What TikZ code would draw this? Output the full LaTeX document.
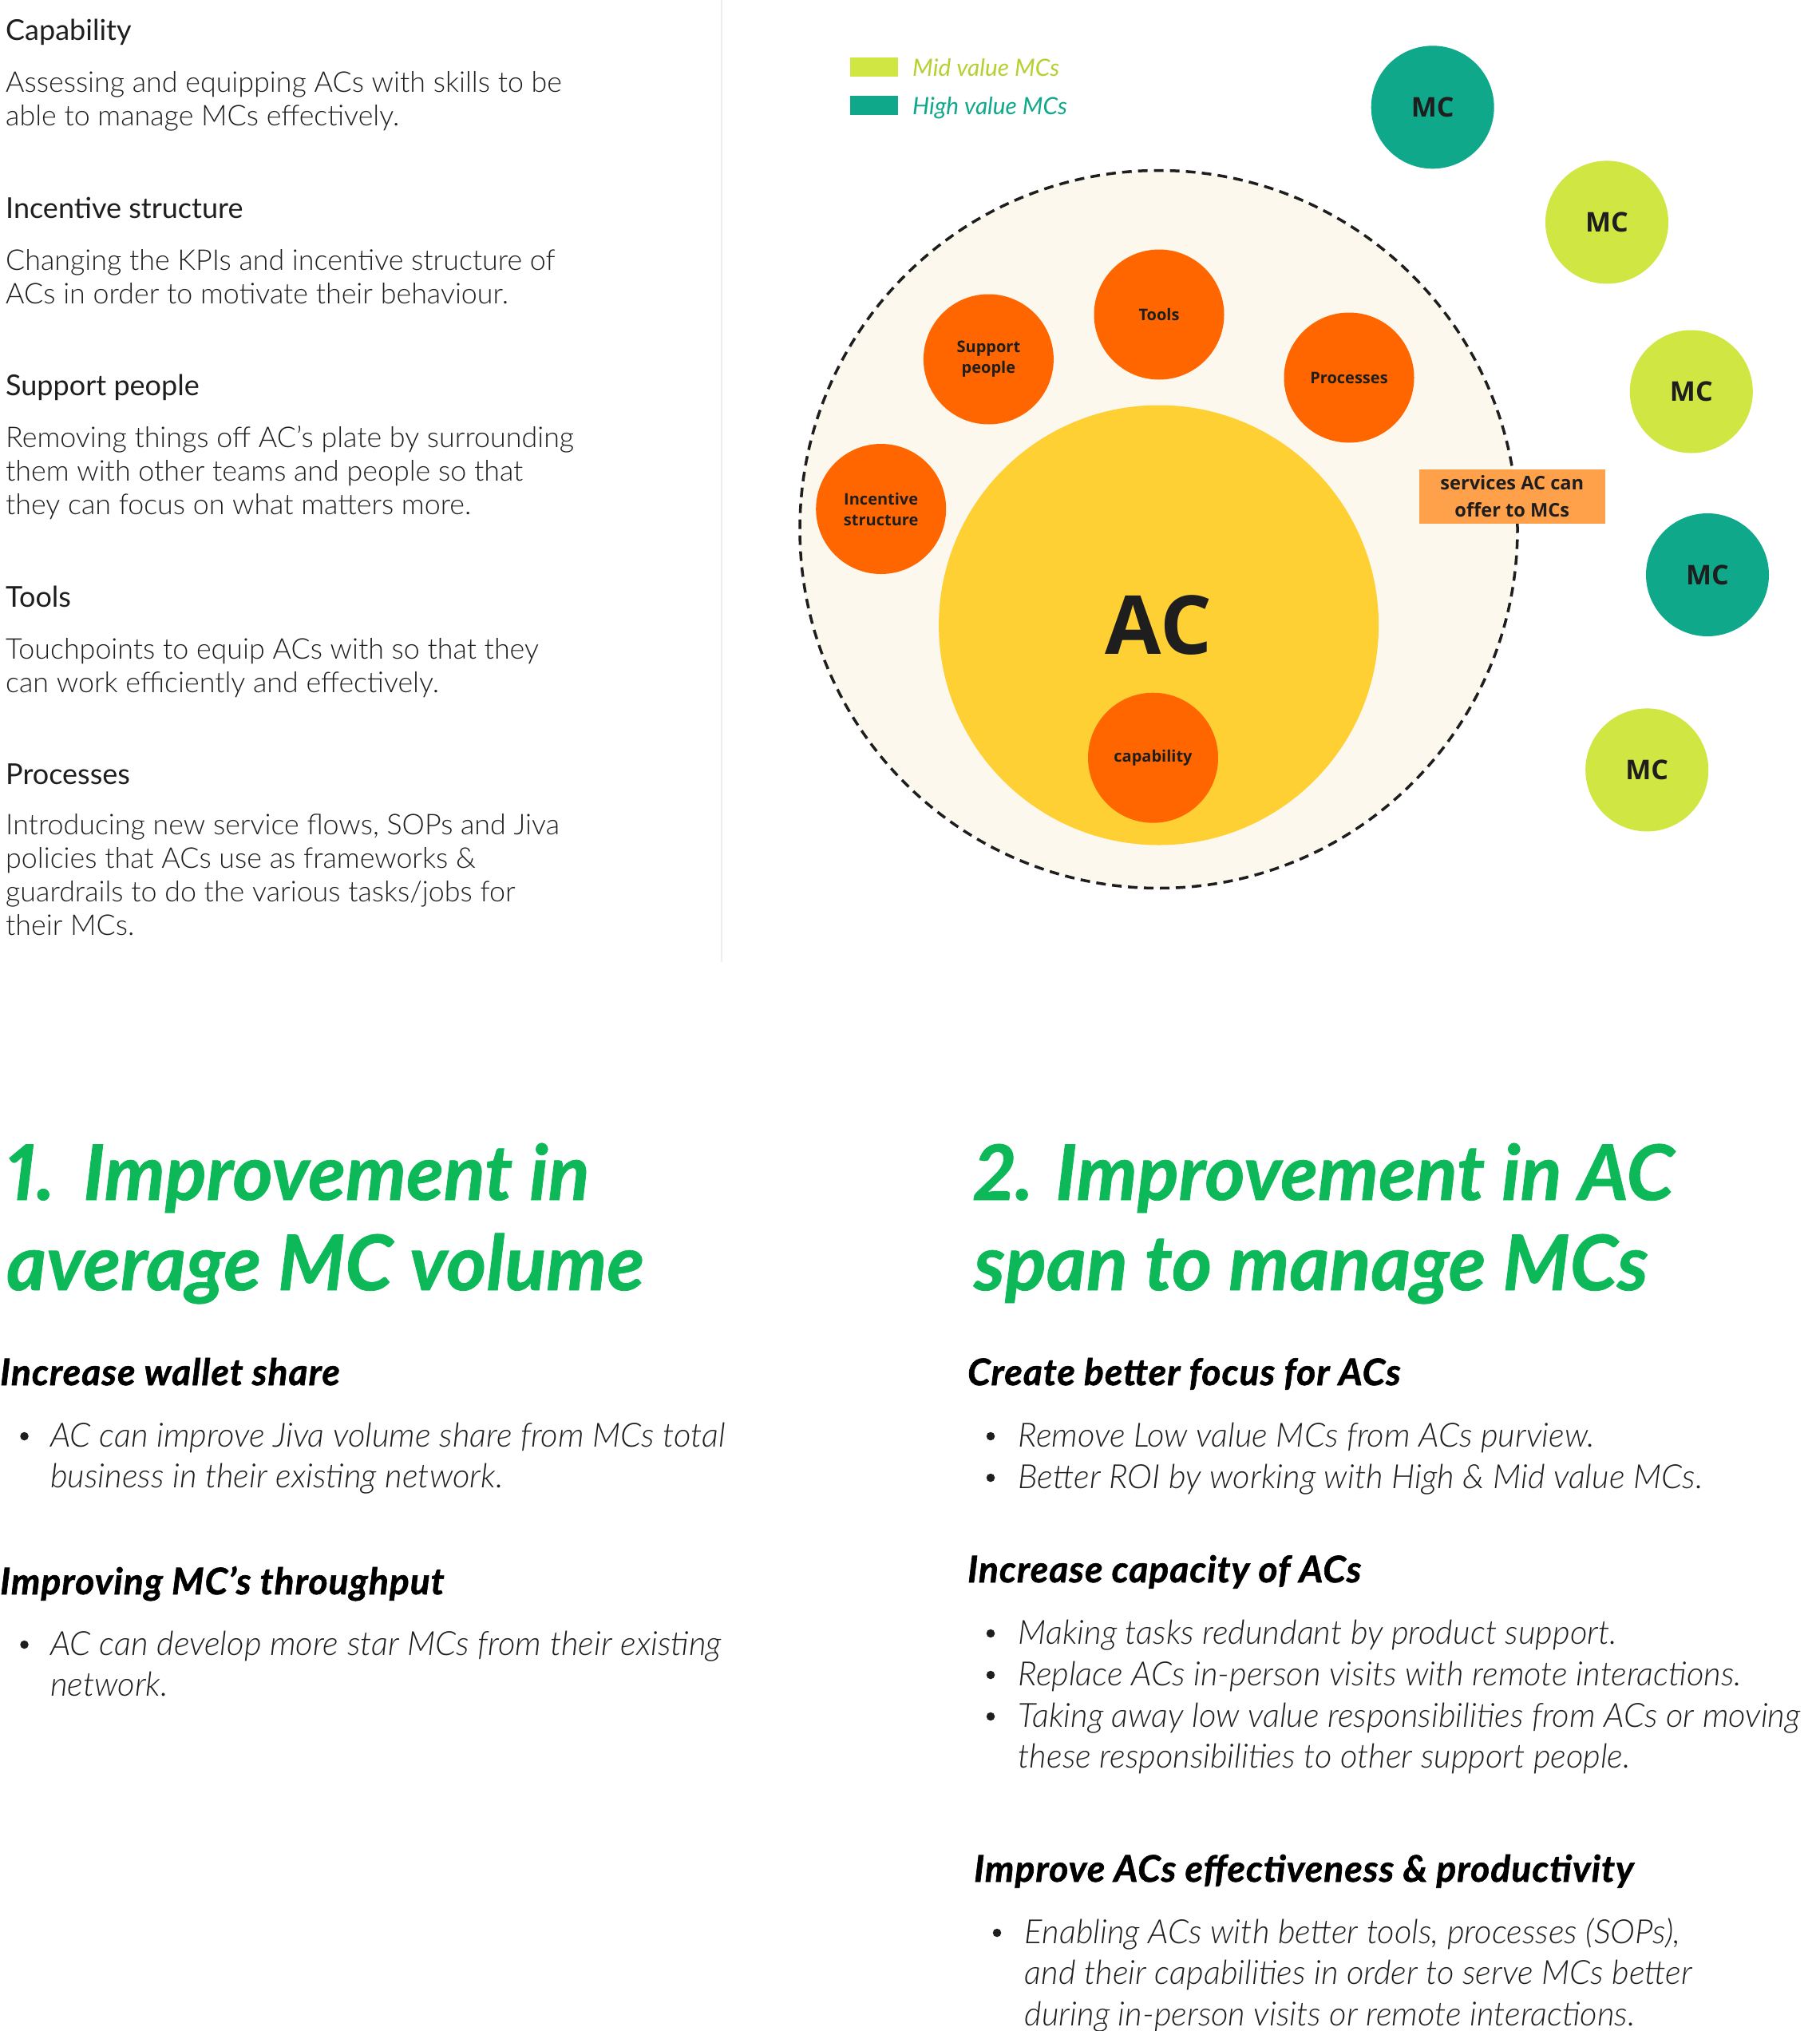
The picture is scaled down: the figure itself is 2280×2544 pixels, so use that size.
\documentclass[tikz,border=0pt]{standalone}
\usepackage{fontspec}
\newfontfamily\fLato{Lato}
\newfontfamily\fOpen{Open Sans}
\IfFontExistsTF{Lato Light}{\newfontfamily\fLight{Lato Light}}{\newfontfamily\fLight{Lato}}
\IfFontExistsTF{Lato Light Italic}{\newfontfamily\fLightIt{Lato Light Italic}\newcommand\bulfnt{\fLightIt}}{\newfontfamily\fLightIt{Lato}\newcommand\bulfnt{\fLightIt\itshape}}
\newfontfamily\fSub{Lato}[BoldItalicFeatures={FakeBold=1.3,LetterSpace=2.4}]
\newcommand\subfnt{\fSub\bfseries\itshape}
\newfontfamily\fBig{Lato}[Numbers=Proportional,BoldItalicFeatures={FakeBold=0.8}]
\definecolor{orangeC}{RGB}{255,102,0}
\definecolor{yellowC}{RGB}{254,208,51}
\definecolor{creamC}{RGB}{253,248,237}
\definecolor{tealC}{RGB}{15,168,138}
\definecolor{limeC}{RGB}{207,230,67}
\definecolor{limeTxt}{RGB}{183,207,48}
\definecolor{boxC}{RGB}{255,160,74}
\definecolor{greenC}{RGB}{12,184,88}
\definecolor{inkC}{RGB}{30,30,30}
\definecolor{ruleC}{RGB}{238,238,238}
\begin{document}
\begin{tikzpicture}[x=1pt,y=-1pt,
  every node/.style={inner sep=0pt},
  lhead/.style={anchor=base west, font=\fLato\fontsize{36}{42}\selectfont, text=inkC},
  lbody/.style={anchor=base west, align=left, font=\fLight\fontsize{35.8}{42.2}\selectfont, text=inkC},
  bighead/.style={anchor=base west, align=left, font=\fBig\bfseries\itshape\fontsize{96}{113}\selectfont, text=greenC},
  subhead/.style={anchor=base west, font=\subfnt\fontsize{46}{50}\selectfont, text=black},
  bultext/.style={anchor=base west, align=left, font=\bulfnt\fontsize{41.8}{51.8}\selectfont, text=inkC},
  bulmark/.style={circle, fill=inkC, minimum size=10.5pt},
  orb/.style={circle, fill=orangeC, minimum size=163pt, align=center, text=inkC, font=\fOpen\bfseries\fontsize{20}{26}\selectfont},
  mcmid/.style={circle, fill=limeC, minimum size=154pt, text=inkC, font=\fOpen\bfseries\fontsize{34}{40}\selectfont},
  mchigh/.style={circle, fill=tealC, minimum size=154pt, text=inkC, font=\fOpen\bfseries\fontsize{34}{40}\selectfont},
  swatch/.style={anchor=north west, minimum width=60pt, minimum height=24pt},
  legtext/.style={anchor=base west, font=\fLato\itshape\fontsize{29.8}{34}\selectfont}
]
\path[use as bounding box, fill=white] (0,0) rectangle (2280,2544);

% faint divider
\coordinate (vtop) at (904,0);
\coordinate (vbot) at (904,1205);
\draw[ruleC, line width=1.5pt] (vtop) -- (vbot);

% left column definitions (base = baseline of last line)
\node[lhead] (hcap) at (7,50) {Capability};
\node[lbody] (bcap) at (7,157.2) {Assessing and equipping ACs with skills to be\\able to manage MCs effectively.};
\node[lhead] (hinc) at (7,273) {Incentive structure};
\node[lbody] (binc) at (7,380.2) {Changing the KPIs and incentive structure of\\ACs in order to motivate their behaviour.};
\node[lhead] (hsup) at (7,495) {Support people};
\node[lbody] (bsup) at (7,644.4) {Removing things off AC’s plate by surrounding\\them with other teams and people so that\\they can focus on what matters more.};
\node[lhead] (htool) at (7,760) {Tools};
\node[lbody] (btool) at (7,867.2) {Touchpoints to equip ACs with so that they\\can work efficiently and effectively.};
\node[lhead] (hproc) at (7,982) {Processes};
\node[lbody] (bproc) at (7,1171.6) {Introducing new service flows, SOPs and Jiva\\policies that ACs use as frameworks \&\\guardrails to do the various tasks/jobs for\\their MCs.};

% diagram
\node[circle, fill=creamC, draw=inkC, line width=3.5pt, dash pattern=on 12pt off 8pt, minimum size=899pt] (outer) at (1451.5,663) {};
\node[circle, fill=yellowC, minimum size=551pt, text=inkC, font=\fOpen\bfseries\fontsize{102}{110}\selectfont] (ac) at (1451.6,783) {AC};
\node[orb] (tools) at (1452,394) {Tools};
\node[orb] (support) at (1238.4,450) {Support\\people};
\node[orb] (proc) at (1690,473) {Processes};
\node[orb] (incent) at (1103.7,637.5) {Incentive\\structure};
\node[orb] (capab) at (1444.5,949.2) {capability};
\node[fill=boxC, minimum width=232.6pt, minimum height=68pt, align=center, text=inkC, font=\fOpen\bfseries\fontsize{23.6}{34}\selectfont] (svc) at (1894.3,621.5) {services AC can\\offer to MCs};

\node[mchigh] (mcA) at (1794.7,134.3) {MC};
\node[mcmid] (mcB) at (2013,278.4) {MC};
\node[mcmid] (mcC) at (2118.8,490.5) {MC};
\node[mchigh] (mcD) at (2139,720) {MC};
\node[mcmid] (mcE) at (2063.2,964.4) {MC};

% legend
\node[swatch, fill=limeC] (legmid) at (1065,72) {};
\node[legtext, text=limeTxt] (legmidt) at (1143,95.5) {Mid value MCs};
\node[swatch, fill=tealC] (leghigh) at (1065,120) {};
\node[legtext, text=tealC] (leghight) at (1143,143.5) {High value MCs};

% section 1
\node[bighead] (h1) at (8,1616) {1. \hspace{8pt}Improvement in\\average MC volume};
\node[subhead] (s11) at (0,1735) {Increase wallet share};
\node[bulmark] (d11) at (30.5,1799) {};
\node[bultext] (t11) at (63,1863.8) {AC can improve Jiva volume share from MCs total\\business in their existing network.};
\node[subhead] (s12) at (0,1997) {Improving MC’s throughput};
\node[bulmark] (d12) at (30.5,2060) {};
\node[bultext] (t12) at (63,2124.8) {AC can develop more star MCs from their existing\\network.};

% section 2
\node[bighead] (h2) at (1220,1616) {2. Improvement in AC\\span to manage MCs};
\node[subhead] (s21) at (1212,1735) {Create better focus for ACs};
\node[bulmark] (d21) at (1241,1799) {};
\node[bultext] (t21) at (1275.5,1812) {Remove Low value MCs from ACs purview.};
\node[bulmark] (d22) at (1241,1851) {};
\node[bultext] (t22) at (1275.5,1864) {Better ROI by working with High \& Mid value MCs.};
\node[subhead] (s22) at (1212,1982) {Increase capacity of ACs};
\node[bulmark] (d23) at (1241,2046) {};
\node[bultext] (t23) at (1275.5,2059) {Making tasks redundant by product support.};
\node[bulmark] (d24) at (1241,2098) {};
\node[bultext] (t24) at (1275.5,2111) {Replace ACs in-person visits with remote interactions.};
\node[bulmark] (d25) at (1241,2150) {};
\node[bultext] (t25) at (1275.5,2214.8) {Taking away low value responsibilities from ACs or moving\\these responsibilities to other support people.};
\node[subhead] (s23) at (1220,2357) {Improve ACs effectiveness \& productivity};
\node[bulmark] (d26) at (1249,2421) {};
\node[bultext] (t26) at (1283.6,2537.6) {Enabling ACs with better tools, processes (SOPs),\\and their capabilities in order to serve MCs better\\during in-person visits or remote interactions.};
\end{tikzpicture}
\end{document}
